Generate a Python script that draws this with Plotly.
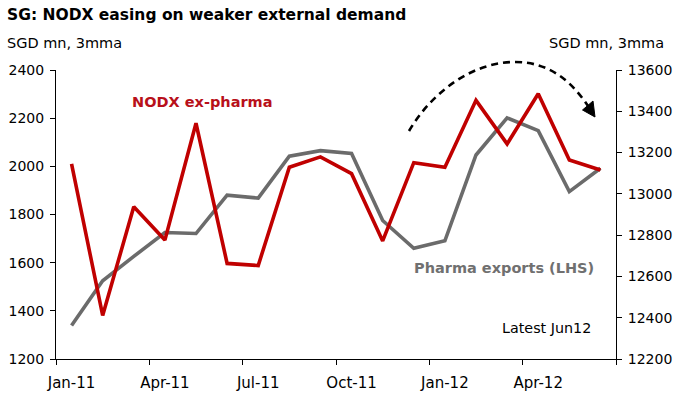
import plotly.graph_objects as go

months = ["Jan-11", "Feb-11", "Mar-11", "Apr-11", "May-11", "Jun-11", "Jul-11", "Aug-11", "Sep-11",
          "Oct-11", "Nov-11", "Dec-11", "Jan-12", "Feb-12", "Mar-12", "Apr-12", "May-12", "Jun-12"]
pharma = [1339, 1525, 1626, 1725, 1721, 1880, 1868, 2042, 2065,
          2053, 1775, 1660, 1691, 2047, 2201, 2148, 1895, 1992]
nodx_ex_pharma = [13145, 12411, 12938, 12776, 13342, 12663, 12653, 13129, 13179,
                  13098, 12772, 13151, 13129, 13453, 13242, 13485, 13164, 13116]
left_ticks = [1200, 1400, 1600, 1800, 2000, 2200, 2400]
right_ticks = [12200, 12400, 12600, 12800, 13000, 13200, 13400, 13600]
label_every = 3

W, H = 682, 399
L, R, T, B = 56, 66, 70, 40
pw, ph = W - L - R, H - T - B

def px(x):
    return (x - L) / pw

def py(y):
    return (H - B - y) / ph

idx = list(range(len(months)))
FONT = "DejaVu Sans"
RED = "#C00000"
GREY = "#6B6B6B"

fig = go.Figure()
fig.add_trace(go.Scatter(x=idx, y=pharma, mode="lines", line=dict(color=GREY, width=3.6),
                         yaxis="y", xaxis="x", showlegend=False))
fig.add_trace(go.Scatter(x=idx, y=nodx_ex_pharma, mode="lines", line=dict(color=RED, width=3.6),
                         yaxis="y2", xaxis="x", showlegend=False))

xr = [-0.5, len(months) - 0.5]
lab_idx = idx[::label_every]
bound = [i - 0.5 for i in lab_idx] + [len(months) - 0.5]

fig.update_layout(
    width=W, height=H, margin=dict(l=L, r=R, t=T, b=B),
    paper_bgcolor="white", plot_bgcolor="white",
    font=dict(family=FONT, size=14, color="black"),
    xaxis=dict(range=xr, tickvals=lab_idx, ticktext=[months[i] for i in lab_idx],
               showgrid=False, zeroline=False, showline=True, linecolor="black", linewidth=1,
               ticks="", tickfont=dict(size=15), ticklabelstandoff=10, automargin=False),
    xaxis2=dict(range=xr, overlaying="x", tickvals=bound, showticklabels=False,
                ticks="outside", ticklen=5, tickcolor="black", tickwidth=1, automargin=False,
                showgrid=False, zeroline=False, showline=False, side="bottom", anchor="y"),
    yaxis=dict(range=[left_ticks[0], left_ticks[-1]], tickvals=left_ticks, showgrid=False,
               zeroline=False, showline=True, linecolor="black", linewidth=1, automargin=False,
               ticks="outside", ticklen=5, tickcolor="black", ticklabelstandoff=3,
               tickformat="d"),
    yaxis2=dict(range=[right_ticks[0], right_ticks[-1]], tickvals=right_ticks, overlaying="y",
                side="right", showgrid=False, zeroline=False, showline=True, linecolor="black",
                linewidth=1, ticks="outside", ticklen=5, tickcolor="black", automargin=False,
                ticklabelstandoff=3, tickformat="d"),
)
# invisible trace to activate the boundary-tick axis
fig.add_trace(go.Scatter(x=[xr[0]], y=[left_ticks[0]], xaxis="x2", yaxis="y", mode="markers",
                         marker=dict(opacity=0), showlegend=False, hoverinfo="skip"))

ann = [
    dict(text="<b>SG: NODX easing on weaker external demand</b>", x=px(5), y=py(15), size=15.5, xa="left", color="black"),
    dict(text="SGD mn, 3mma", x=px(5), y=py(43), size=14.5, xa="left", color="black"),
    dict(text="SGD mn, 3mma", x=px(666), y=py(43), size=14.5, xa="right", color="black"),
    dict(text="<b>NODX ex-pharma</b>", x=px(130), y=py(102), size=14.5, xa="left", color="#B8101A"),
    dict(text="<b>Pharma exports (LHS)</b>", x=px(596), y=py(268), size=14.5, xa="right", color="#707070"),
    dict(text="Latest Jun12", x=px(593), y=py(328), size=14.3, xa="right", color="black"),
]
for a in ann:
    fig.add_annotation(text=a["text"], x=a["x"], y=a["y"], xref="paper", yref="paper",
                       xanchor=a["xa"], yanchor="middle", showarrow=False,
                       font=dict(family=FONT, size=a["size"], color=a["color"]))

def P(x, y):
    return f"{px(x):.5f},{py(y):.5f}"

arc = (f"M {P(409,131)} C {P(430,95)} {P(470,62)} {P(515,62)} "
       f"C {P(550,62)} {P(572,82)} {P(588,106)}")
fig.add_shape(type="path", path=arc, xref="paper", yref="paper",
              line=dict(color="black", width=2.6, dash="7px,5px"))
head = f"M {P(595,117)} L {P(582.5,110)} L {P(593,101)} Z"
fig.add_shape(type="path", path=head, xref="paper", yref="paper",
              line=dict(color="black", width=1), fillcolor="black")

fig.write_html("out.html", config={"displayModeBar": False},
               post_script="document.body.style.margin='0px';document.body.style.overflow='hidden';")
